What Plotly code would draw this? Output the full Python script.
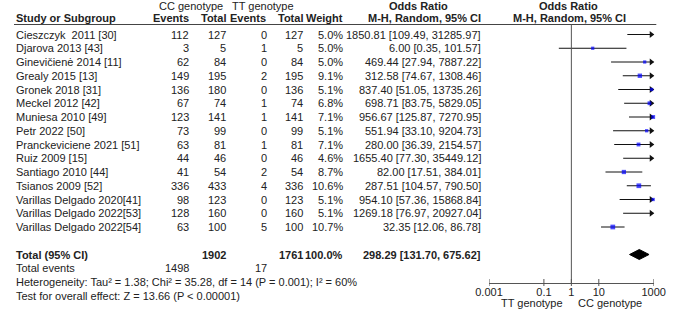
import numpy as np
import plotly.graph_objects as go

W, H = 676, 311

studies = ["Cieszczyk\u00a0 2011 [30]", "Djarova 2013 [43]", "Ginevičienė 2014 [11]", "Grealy 2015 [13]",
           "Gronek 2018 [31]", "Meckel 2012 [42]", "Muniesa 2010 [49]", "Petr 2022 [50]",
           "Pranckeviciene 2021 [51]", "Ruiz 2009 [15]", "Santiago 2010 [44]", "Tsianos 2009 [52]",
           "Varillas Delgado 2020[41]", "Varillas Delgado 2022[53]", "Varillas Delgado 2022[54]"]
cc_events = [112, 3, 62, 149, 136, 67, 123, 73, 63, 44, 41, 336, 98, 128, 63]
cc_total = [127, 5, 84, 195, 180, 74, 141, 99, 81, 46, 54, 433, 123, 160, 100]
tt_events = [0, 1, 0, 2, 0, 1, 1, 0, 1, 0, 2, 4, 0, 0, 5]
tt_total = [127, 5, 84, 195, 136, 74, 141, 99, 81, 46, 54, 336, 123, 160, 100]
weight = [5.0, 5.0, 5.0, 9.1, 5.1, 6.8, 7.1, 5.1, 7.1, 4.6, 8.7, 10.6, 5.1, 5.1, 10.7]
odds = [1850.81, 6.00, 469.44, 312.58, 837.40, 698.71, 956.67, 551.94, 280.00, 1655.40, 82.00, 287.51, 954.10, 1269.18, 32.35]
ci_lo = [109.49, 0.35, 27.94, 74.67, 51.05, 83.75, 125.87, 33.10, 36.39, 77.30, 17.51, 104.57, 57.36, 76.97, 12.06]
ci_hi = [31285.97, 101.57, 7887.22, 1308.46, 13735.26, 5829.05, 7270.95, 9204.73, 2154.57, 35449.12, 384.01, 790.50, 15868.84, 20927.04, 86.78]

total_cc, total_tt = 1902, 1761
total_weight = 100.0
total_events_cc, total_events_tt = 1498, 17
pooled_or, pooled_lo, pooled_hi = 298.29, 131.70, 675.62
het_text = "Heterogeneity: Tau² = 1.38; Chi² = 35.28, df = 14 (P = 0.001); I² = 60%"
test_text = "Test for overall effect: Z = 13.66 (P < 0.00001)"

tick_vals = [0.001, 0.1, 1, 10, 1000]
tick_text = ["0.001", "0.1", "1", "10", "1000"]
xmin, xmax = -3, 3

# row geometry (pixel -> row index)
ROW0, STEP = 34.5, 13.75
def yi(p):
    return (p - ROW0) / STEP

n = len(studies)
rows = list(range(n))
r_total, r_tev, r_het, r_test = 16, 17, 18, 19
r_grp, r_hdr, r_line = yi(6), yi(18), yi(24.5)
r_axis = yi(283)

FONT = "Liberation Sans, Arial, sans-serif"
TC = "#222"

fig = go.Figure()

lo_l = np.log10(ci_lo)
hi_l = np.log10(ci_hi)
or_l = np.log10(odds)

# CI lines
lx, ly = [], []
for i in rows:
    lx += [max(lo_l[i], xmin), min(hi_l[i], xmax), None]
    ly += [i, i, None]
fig.add_trace(go.Scatter(x=lx, y=ly, mode="lines", line=dict(color="#111", width=1),
                         hoverinfo="skip", showlegend=False, cliponaxis=False))

# arrowheads
ax_, ay_ = [], []
for i in rows:
    if hi_l[i] > xmax:
        ax_.append(xmax - 0.09)
        ay_.append(i)
fig.add_trace(go.Scatter(x=ax_, y=ay_, mode="markers",
                         marker=dict(symbol="triangle-right", size=6, color="#111", line=dict(width=0)),
                         hoverinfo="skip", showlegend=False, cliponaxis=False))

# squares
sx, sy, ss = [], [], []
for i in rows:
    if xmin <= or_l[i] <= xmax:
        sx.append(or_l[i]); sy.append(i); ss.append(1.45 * np.sqrt(weight[i]))
fig.add_trace(go.Scatter(x=sx, y=sy, mode="markers",
                         marker=dict(symbol="square", size=ss, color="#0000ff", line=dict(width=0)),
                         hoverinfo="skip", showlegend=False, cliponaxis=False))

# diamond
dl, dc, dh = np.log10([pooled_lo, pooled_or, pooled_hi])
hh = 5 / STEP
fig.add_trace(go.Scatter(x=[dl, dc, dh, dc, dl], y=[r_total, r_total - hh, r_total, r_total + hh, r_total],
                         mode="lines", fill="toself", fillcolor="#000", line=dict(color="#000", width=1),
                         hoverinfo="skip", showlegend=False))

shapes = []
# header underline
shapes.append(dict(type="line", xref="paper", yref="y", x0=0, x1=668 / W, y0=r_line, y1=r_line,
                   line=dict(color="#444", width=1)))
# no-effect line
shapes.append(dict(type="line", xref="x", yref="y", x0=0, x1=0, y0=r_line, y1=r_axis,
                   line=dict(color="#555", width=1)))
# crossing ticks
for v in tick_vals:
    lv = np.log10(v)
    shapes.append(dict(type="line", xref="x", yref="y", x0=lv, x1=lv, y0=yi(279), y1=yi(286),
                       line=dict(color="#555", width=1)))

ann = []
def txt(x, y, s, anchor="left", bold=False, size=11):
    ann.append(dict(x=x / W, y=y, xref="paper", yref="y", text=("<b>%s</b>" % s) if bold else s,
                    showarrow=False, xanchor=anchor, yanchor="middle",
                    font=dict(family=FONT, size=size, color=TC), borderpad=0))

# headers
txt(150, r_grp, "CC genotype")
txt(226, r_grp, "TT genotype")
txt(421, r_grp, "Odds Ratio", "center", True)
txt(577, r_grp, "Odds Ratio", "center", True)
txt(1, r_hdr, "Study or Subgroup", bold=True)
txt(183, r_hdr, "Events", "right", True)
txt(222, r_hdr, "Total", "right", True)
txt(263, r_hdr, "Events", "right", True)
txt(302, r_hdr, "Total", "right", True)
txt(343, r_hdr, "Weight", "right", True)
txt(487, r_hdr, "M-H, Random, 95% CI", "right", True)
txt(578, r_hdr, "M-H, Random, 95% CI", "center", True)

for i in rows:
    txt(1, i, studies[i])
    txt(183, i, str(cc_events[i]), "right")
    txt(222, i, str(cc_total[i]), "right")
    txt(264, i, str(tt_events[i]), "right")
    txt(302, i, str(tt_total[i]), "right")
    txt(343, i, "%.1f%%" % weight[i], "right")
    txt(487, i, "%.2f [%.2f, %.2f]" % (odds[i], ci_lo[i], ci_hi[i]), "right")

txt(1, r_total, "Total (95% CI)", bold=True)
txt(222, r_total, str(total_cc), "right", True)
txt(302, r_total, str(total_tt), "right", True)
txt(343, r_total, "%.1f%%" % total_weight, "right", True)
txt(487, r_total, "%.2f [%.2f, %.2f]" % (pooled_or, pooled_lo, pooled_hi), "right", True)
txt(1, r_tev, "Total events")
txt(183, r_tev, str(total_events_cc), "right")
txt(264, r_tev, str(total_events_tt), "right")
txt(1, r_het, het_text)
txt(1, r_test, test_text)
txt(572, yi(303), "TT genotype", "right")
txt(585, yi(303), "CC genotype", "left")

fig.update_layout(
    width=W, height=H, margin=dict(l=0, r=0, t=0, b=0),
    paper_bgcolor="white", plot_bgcolor="rgba(0,0,0,0)",
    shapes=shapes, annotations=ann, showlegend=False,
    xaxis=dict(domain=[494 / W, 665.3 / W], range=[xmin, xmax], anchor="free", position=(H - 283) / H,
               showgrid=False, zeroline=False, showline=True, linecolor="#555", linewidth=1,
               tickvals=list(np.log10(tick_vals)), ticktext=tick_text, ticks="",
               ticklabeloverflow="allow", ticklabelstandoff=-1,
               tickfont=dict(family=FONT, size=11, color=TC), fixedrange=True),
    yaxis=dict(domain=[0, 1], range=[yi(H), yi(0)], visible=False, fixedrange=True),
)

fig.write_html("out.html", config={"displayModeBar": False},
               post_script="document.body.style.margin='0';document.body.style.overflow='hidden';")
